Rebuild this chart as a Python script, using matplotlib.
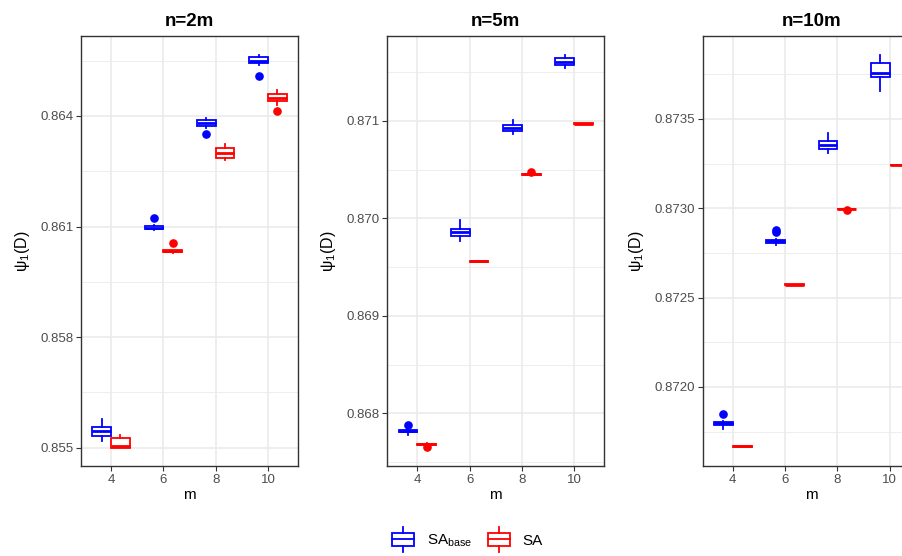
import matplotlib
matplotlib.use("Agg")
import matplotlib.pyplot as plt
from matplotlib.legend_handler import HandlerBase
from matplotlib.patches import Patch, Rectangle
from matplotlib.lines import Line2D
from matplotlib.ticker import FormatStrFormatter

plt.rcParams['font.family'] = ['Liberation Sans', 'DejaVu Sans']
plt.rcParams['mathtext.fontset'] = 'custom'
plt.rcParams['mathtext.rm'] = 'Liberation Sans'

# ---------------- data ----------------
m_values = [4, 6, 8, 10]
panels = ["n=2m", "n=5m", "n=10m"]
series_names = ["SA$_{\\mathregular{base}}$", "SA"]
series_colors = ["#0000FF", "#FF0000"]

# n = 2m
n2_base_q1 = [0.855320, 0.860927, 0.863729, 0.865429]
n2_base_med = [0.855456, 0.860975, 0.863802, 0.865500]
n2_base_q3 = [0.855572, 0.861024, 0.863891, 0.865592]
n2_base_lo = [0.855184, 0.860920, 0.863666, 0.865392]
n2_base_hi = [0.855773, 0.861030, 0.863938, 0.865655]
n2_base_out = [[], [0.861241], [0.863504], [0.865085]]

n2_sa_q1 = [0.855003, 0.860300, 0.862869, 0.864407]
n2_sa_med = [0.855062, 0.860335, 0.862988, 0.864496]
n2_sa_q3 = [0.855274, 0.860370, 0.863124, 0.864597]
n2_sa_lo = [0.855003, 0.860295, 0.862798, 0.864298]
n2_sa_hi = [0.855347, 0.860375, 0.863232, 0.864705]
n2_sa_out = [[], [0.860547], [], [0.864144]]

# n = 5m
n5_base_q1 = [0.867805, 0.869818, 0.870898, 0.871572]
n5_base_med = [0.867818, 0.869863, 0.870929, 0.871600]
n5_base_q3 = [0.867832, 0.869890, 0.870957, 0.871641]
n5_base_lo = [0.867774, 0.869764, 0.870862, 0.871538]
n5_base_hi = [0.867845, 0.869983, 0.871008, 0.871675]
n5_base_out = [[0.867880], [], [], []]

n5_sa_q1 = [0.867680, 0.869555, 0.870448, 0.870967]
n5_sa_med = [0.867684, 0.869559, 0.870451, 0.870970]
n5_sa_q3 = [0.867689, 0.869562, 0.870454, 0.870973]
n5_sa_lo = [0.867677, 0.869555, 0.870448, 0.870967]
n5_sa_hi = [0.867692, 0.869562, 0.870454, 0.870973]
n5_sa_out = [[0.867657], [], [0.870472], []]

# n = 10m
n10_base_q1 = [0.871786, 0.872808, 0.873334, 0.873737]
n10_base_med = [0.871795, 0.872815, 0.873354, 0.873759]
n10_base_q3 = [0.871803, 0.872823, 0.873379, 0.873815]
n10_base_lo = [0.871766, 0.872795, 0.873311, 0.873657]
n10_base_hi = [0.871808, 0.872828, 0.873420, 0.873858]
n10_base_out = [[0.871850], [0.872876, 0.872865], [], []]

n10_sa_q1 = [0.871665, 0.872570, 0.872994, 0.873240]
n10_sa_med = [0.871667, 0.872572, 0.872996, 0.873242]
n10_sa_q3 = [0.871669, 0.872574, 0.872998, 0.873244]
n10_sa_lo = [0.871665, 0.872570, 0.872994, 0.873240]
n10_sa_hi = [0.871669, 0.872574, 0.872998, 0.873244]
n10_sa_out = [[], [], [0.872990], []]

y_limits = [(0.854506, 0.866178), (0.867460, 0.871873), (0.871557, 0.873966)]
y_major = [[0.855, 0.858, 0.861, 0.864],
           [0.868, 0.869, 0.870, 0.871],
           [0.8720, 0.8725, 0.8730, 0.8735]]
y_minor = [[0.8565, 0.8595, 0.8625, 0.8655],
           [0.8675, 0.8685, 0.8695, 0.8705, 0.8715],
           [0.87175, 0.87225, 0.87275, 0.87325, 0.87375]]
y_formats = ["%.3f", "%.3f", "%.4f"]

panel_data = [
    [(n2_base_q1, n2_base_med, n2_base_q3, n2_base_lo, n2_base_hi, n2_base_out),
     (n2_sa_q1, n2_sa_med, n2_sa_q3, n2_sa_lo, n2_sa_hi, n2_sa_out)],
    [(n5_base_q1, n5_base_med, n5_base_q3, n5_base_lo, n5_base_hi, n5_base_out),
     (n5_sa_q1, n5_sa_med, n5_sa_q3, n5_sa_lo, n5_sa_hi, n5_sa_out)],
    [(n10_base_q1, n10_base_med, n10_base_q3, n10_base_lo, n10_base_hi, n10_base_out),
     (n10_sa_q1, n10_sa_med, n10_sa_q3, n10_sa_lo, n10_sa_hi, n10_sa_out)],
]

# ---------------- figure ----------------
W, H = 902, 556
fig = plt.figure(figsize=(W / 100, H / 100), dpi=100)

panel_left_px = [81, 387.3, 702.7]
panel_w_px = 217
panel_top_px, panel_bot_px = 35.7, 466

dodge = 0.36
box_w = 0.72
grid_col = "#EBEBEB"
tick_col = "#4D4D4D"
border_col = "#333333"

for i, name in enumerate(panels):
    ax = fig.add_axes([panel_left_px[i] / W, (H - panel_bot_px) / H,
                       panel_w_px / W, (panel_bot_px - panel_top_px) / H])
    ax.set_xlim(2.85, 11.15)
    ax.set_ylim(*y_limits[i])
    ax.set_xticks(m_values)
    ax.set_yticks(y_major[i])
    ax.set_yticks(y_minor[i], minor=True)
    ax.yaxis.set_major_formatter(FormatStrFormatter(y_formats[i]))

    ax.grid(True, which="major", color=grid_col, lw=1.2, zorder=0)
    ax.grid(True, which="minor", axis="y", color=grid_col, lw=0.6, zorder=0)
    ax.set_axisbelow(True)
    ax.tick_params(which="minor", length=0)
    ax.tick_params(which="major", length=3.5, width=0.8, color=border_col,
                   labelcolor=tick_col, labelsize=9.5, pad=2)
    for sp in ax.spines.values():
        sp.set_color(border_col)
        sp.set_linewidth(1.0)

    for s, (q1, med, q3, lo, hi, out) in enumerate(panel_data[i]):
        col = series_colors[s]
        offset = -dodge if s == 0 else dodge
        stats = []
        for k in range(len(m_values)):
            stats.append(dict(q1=q1[k], med=med[k], q3=q3[k],
                              whislo=lo[k], whishi=hi[k], fliers=out[k]))
        pos = [mv + offset for mv in m_values]
        ax.bxp(stats, positions=pos, widths=box_w, showcaps=False,
               patch_artist=True, manage_ticks=False,
               boxprops=dict(facecolor="white", edgecolor=col, lw=1.3),
               medianprops=dict(color=col, lw=2.0, solid_capstyle="butt"),
               whiskerprops=dict(color=col, lw=1.3),
               flierprops=dict(marker="o", markerfacecolor=col,
                               markeredgecolor=col, markersize=5.2))

    ax.set_title(name, fontsize=13.5, fontweight="bold", pad=7)
    ax.set_xlabel("m", fontsize=11, labelpad=2)
    ax.set_ylabel("ψ$_{\\mathregular{1}}$(D)", fontsize=11.5, labelpad=6)


# legend keys drawn as small boxplot glyphs
class BoxGlyph(HandlerBase):
    def create_artists(self, legend, orig_handle, xdescent, ydescent,
                       width, height, fontsize, trans):
        col = orig_handle.get_edgecolor()
        cx = width / 2 - xdescent
        bw = width * 0.95
        bh = height * 1.0
        y0 = height / 2 - ydescent
        rect = Rectangle((cx - bw / 2, y0 - bh / 2), bw, bh, facecolor="white",
                         edgecolor=col, lw=1.3, transform=trans)
        medl = Line2D([cx - bw / 2, cx + bw / 2], [y0, y0], color=col, lw=1.3,
                      transform=trans)
        wt = Line2D([cx, cx], [y0 + bh / 2, y0 + bh / 2 + height * 0.45],
                    color=col, lw=1.3, transform=trans)
        wb = Line2D([cx, cx], [y0 - bh / 2, y0 - bh / 2 - height * 0.45],
                    color=col, lw=1.3, transform=trans)
        return [rect, medl, wt, wb]


handles = [Patch(edgecolor=c, facecolor="white") for c in series_colors]
fig.legend(handles, series_names, loc="center", bbox_to_anchor=(0.518, 0.027),
           ncol=2, frameon=False, fontsize=11, handler_map={Patch: BoxGlyph()},
           handlelength=1.5, handleheight=0.95, handletextpad=0.8,
           columnspacing=1.0)

fig.savefig("out.png", dpi=100)
